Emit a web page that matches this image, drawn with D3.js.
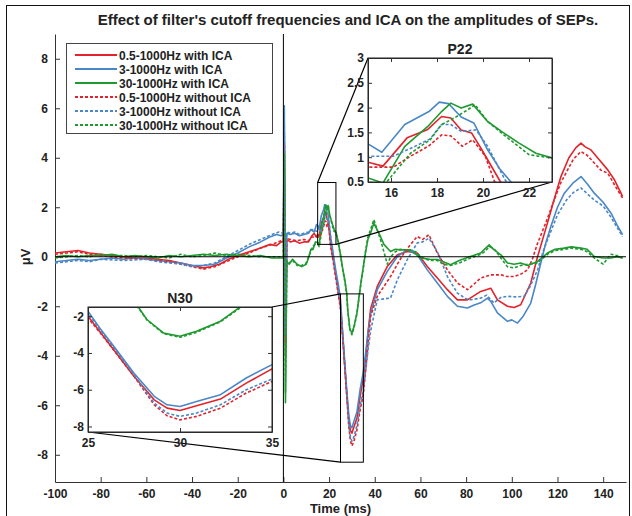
<!DOCTYPE html>
<html>
<head>
<meta charset="utf-8">
<script src="https://cdn.jsdelivr.net/npm/d3@7"></script>
<style>
  body { margin: 0; background: #fff; }
  svg { font-family: "Liberation Sans", Arial, Helvetica, sans-serif; }
  .lbl { font-weight: bold; fill: #222; }
</style>
</head>
<body>
<svg id="chart" width="632" height="516"></svg>
<script>
// time (ms), amplitude (uV) pairs
const redSolid = [[-100,0.15],[-95,0.2],[-90,0.25],[-85,0.15],[-80,0.1],[-75,0.05],[-70,0],[-65,-0.05],[-60,-0.05],[-55,-0.1],[-50,-0.15],[-45,-0.25],[-40,-0.35],[-35,-0.45],[-32,-0.4],[-28,-0.3],[-24,-0.1],[-20,0.05],[-15,0.2],[-10,0.35],[-6,0.5],[-3,0.45],[-1,0.6],[0,0.6],[0.4,5.0],[0.9,-4.0],[1.5,0.7],[3,0.6],[5,0.65],[7,0.55],[9,0.6],[11,0.6],[12.5,0.85],[13.5,0.95],[14.3,0.8],[15,0.9],[15.65,0.82],[16.7,1.39],[17.6,1.56],[18.2,1.82],[18.6,1.79],[19.05,1.55],[19.5,1.49],[19.95,1.15],[20.75,0.51],[22,-0.2],[23,-0.8],[24,-1.4],[25,-2.0],[25.7,-2.91],[26.4,-3.82],[27.5,-5.27],[28.6,-6.55],[29.3,-7.0],[30,-7.13],[30.9,-6.87],[32.2,-6.51],[33.6,-5.64],[35,-4.87],[36,-4.1],[37,-3.1],[38.2,-2.1],[41.1,-1.2],[45.5,-0.39],[49.9,0.08],[54.2,0.21],[58.6,0.15],[63,-0.39],[67.4,-0.86],[71.8,-1.33],[76.2,-1.74],[80.6,-1.74],[83,-1.6],[86.4,-1.4],[90.8,-1.27],[93.7,-1.74],[98.1,-2.0],[101,-2.05],[103.9,-1.94],[108.3,-1.06],[111.3,0.01],[115.6,1.36],[118.5,2.3],[121.5,3.24],[125,4.0],[128,4.4],[130.3,4.59],[132,4.45],[134.6,4.32],[138,3.95],[142,3.51],[145,3.1],[148.5,2.44]];

const blueSolid = [[-100,-0.2],[-95,-0.15],[-90,-0.1],[-85,-0.15],[-80,-0.1],[-75,-0.05],[-70,-0.1],[-65,-0.05],[-60,-0.1],[-55,-0.15],[-50,-0.2],[-45,-0.25],[-40,-0.35],[-35,-0.35],[-30,-0.3],[-25,-0.05],[-20,0.15],[-15,0.4],[-10,0.6],[-6,0.8],[-3,0.9],[-1,0.85],[0,0.9],[0.4,6.1],[0.9,-3.0],[1.5,0.95],[3,0.9],[5,0.95],[7,0.85],[9,0.9],[11,0.95],[12,1.1],[13.5,1.0],[14.5,1.3],[15,1.27],[15.6,1.1],[16.6,1.66],[17.65,1.92],[18.1,2.11],[18.5,2.08],[19.05,1.81],[19.6,1.69],[20.2,1.15],[20.75,0.75],[21.2,0.51],[22,0],[23,-0.6],[24,-1.1],[25,-1.73],[25.7,-2.73],[26.4,-3.64],[27.5,-5.1],[28.6,-6.36],[29.3,-6.82],[30,-6.91],[30.9,-6.64],[32.2,-6.27],[33.6,-5.36],[35,-4.64],[36,-3.9],[37,-3.1],[38.2,-2.3],[41.1,-1.33],[45.5,-0.59],[49.9,0.01],[54.2,0.28],[58.6,0.08],[63,-0.53],[67.4,-1.06],[71.8,-1.6],[76.2,-2.0],[80.6,-2.07],[83.5,-1.95],[86.4,-1.86],[89.3,-1.67],[90.8,-1.8],[93.7,-2.27],[98.1,-2.61],[100,-2.55],[102.5,-2.68],[105,-2.4],[108.3,-1.87],[110.5,-1.1],[112.7,-0.25],[115,0.6],[117.1,1.22],[120,2.0],[123,2.57],[127,3.0],[130.3,3.24],[133,2.95],[136.1,2.57],[140,2.2],[143.4,1.77],[146,1.3],[148.5,0.89]];

const greenSolid = [[-100,0],[-95,0.05],[-90,0],[-85,0.05],[-80,0.05],[-75,0.1],[-70,0],[-65,0.05],[-60,0],[-55,-0.05],[-50,0.05],[-45,0],[-40,0.05],[-35,0.1],[-30,0.05],[-25,0.1],[-20,0.05],[-15,0],[-10,0.05],[-5,-0.05],[0,-0.05],[0.4,4.5],[0.9,-5.9],[1.5,-0.2],[2.5,-0.3],[4,-0.1],[6,-0.3],[8,-0.4],[10,-0.3],[11,-0.05],[12,0.3],[13,0.3],[14,0.6],[15,0.58],[15.65,0.48],[16.6,1.22],[17.6,1.62],[18.2,1.92],[18.6,2.09],[19.05,1.99],[19.55,2.07],[20.2,1.72],[20.8,1.52],[21.55,1.29],[22.3,1.08],[23.05,0.98],[24,0.6],[25,0.1],[26,-0.5],[27,-1.0],[27.7,-1.45],[28.2,-2.18],[29.1,-2.91],[30,-3.09],[30.9,-2.82],[32.2,-2.27],[33.2,-1.55],[34,-1.0],[35,-0.4],[36,0.2],[37,0.7],[38.2,0.96],[39.6,1.36],[42.5,0.82],[44,0.5],[46.9,0.21],[49,0.3],[51.3,0.28],[55.7,0.28],[60.1,-0.05],[64,-0.1],[67.4,-0.11],[70,-0.2],[73.2,-0.32],[77,-0.15],[80.6,-0.03],[86.4,0.15],[88,0.3],[90.1,0.48],[92,0.3],[95.2,0.08],[98.1,-0.25],[101,-0.3],[103.9,-0.25],[107,-0.35],[111.3,-0.19],[115.6,0.15],[119,0.3],[122.9,0.35],[126,0.4],[130.3,0.35],[133,0.3],[136.1,0.01],[140,-0.05],[143.4,-0.05],[146,0],[148.5,-0.05]];

const redDashed = [[-100,0.1],[-95,0.15],[-90,0.2],[-85,0.1],[-80,0.05],[-70,-0.05],[-60,-0.1],[-50,-0.2],[-45,-0.3],[-40,-0.4],[-35,-0.5],[-30,-0.4],[-25,-0.2],[-20,0],[-15,0.15],[-10,0.35],[-5,0.5],[-1,0.65],[0,0.65],[0.4,4.6],[0.9,-3.5],[1.5,0.75],[3,0.7],[6,0.65],[9,0.7],[11,0.65],[12.5,0.8],[14,0.8],[15,0.8],[16.1,0.8],[16.85,1.02],[17.65,1.23],[18.2,1.45],[18.6,1.43],[19.1,1.22],[19.55,1.35],[20.1,1.02],[20.5,0.51],[22,-0.3],[23,-0.9],[24,-1.5],[25,-2.1],[25.7,-2.95],[26.4,-3.85],[27.5,-5.27],[28.6,-6.82],[29.3,-7.42],[30,-7.64],[30.9,-7.45],[32.2,-7.0],[33.6,-6.18],[35,-5.55],[36,-4.6],[37,-3.6],[38.2,-2.4],[41.1,-1.6],[44,-1.2],[46.9,-0.8],[49.9,-0.3],[52.8,0.15],[55.7,0.5],[58.6,0.82],[61,0.7],[63.7,0.89],[67.4,0.15],[71.8,-0.53],[76.2,-1.06],[80.6,-1.33],[83.5,-1.1],[86.4,-0.86],[90.8,-0.73],[95.2,-0.73],[98,-0.8],[101,-0.8],[104,-0.7],[106.9,-0.53],[109,-0.1],[111.3,0.55],[115,1.4],[118.6,2.3],[121.5,3.0],[124.4,3.5],[127,3.95],[130.3,4.25],[133,4.1],[136,3.8],[139,3.5],[142,3.38],[145,2.9],[148.5,2.37]];

const blueDashed = [[-100,-0.25],[-95,-0.2],[-90,-0.15],[-85,-0.2],[-80,-0.1],[-70,-0.15],[-60,-0.1],[-55,-0.2],[-50,-0.25],[-45,-0.3],[-40,-0.4],[-35,-0.35],[-30,-0.25],[-25,0],[-20,0.25],[-15,0.5],[-10,0.7],[-5,0.9],[-2,1.0],[0,0.95],[0.4,5.4],[0.9,-3.2],[1.5,1.0],[3,0.95],[5,1.0],[7,0.9],[9,0.95],[11,1.0],[12.5,1.1],[14,1.05],[15,1.02],[16.1,1.02],[17.05,1.22],[17.7,1.37],[18.2,1.66],[18.6,1.66],[19.05,1.52],[19.7,1.55],[20.2,1.22],[20.95,0.55],[22,-0.1],[23,-0.7],[24,-1.3],[25,-1.85],[25.7,-2.8],[26.4,-3.7],[27.5,-5.18],[28.6,-6.73],[29.3,-7.27],[30,-7.45],[30.9,-7.27],[32.2,-6.82],[33.6,-6.0],[35,-5.42],[36,-4.6],[37,-3.8],[38.2,-3.0],[40,-2.2],[41.1,-1.74],[44,-1.7],[46.9,-1.67],[49.9,-0.93],[54.2,-0.12],[58.6,0.56],[61,0.6],[63.7,0.75],[67.4,0.21],[71.8,-0.8],[76.2,-1.47],[80,-1.7],[82,-1.74],[86.4,-1.67],[89,-1.55],[92.2,-1.87],[95,-1.65],[98,-1.6],[102,-1.62],[105.4,-1.6],[108,-1.2],[111.3,-0.53],[114,0.3],[117,1.0],[120,1.7],[124,2.3],[127,2.6],[130.3,2.78],[133,2.55],[136,2.3],[140,2.05],[143.4,1.6],[146,1.2],[148.5,0.82]];

const greenDashed = [[-100,-0.05],[-95,0],[-90,0.05],[-85,0],[-80,0.1],[-75,0.05],[-70,0.05],[-65,0],[-60,0.05],[-55,0],[-50,-0.05],[-45,0.1],[-40,0],[-35,0.05],[-30,0.15],[-25,0.05],[-20,0.1],[-15,0.05],[-10,0],[-5,0],[0,0],[0.4,4.2],[0.9,-5.5],[1.5,-0.15],[2.5,-0.25],[4,-0.15],[6,-0.35],[8,-0.35],[10,-0.25],[11,0],[12,0.2],[13,0.45],[14,0.5],[15,0.51],[15.65,0.41],[16.85,1.08],[17.7,1.35],[18.2,1.66],[18.75,1.79],[19.35,1.96],[19.65,2.06],[20.2,1.72],[20.8,1.49],[22,1.05],[23,0.98],[24,0.55],[25,0.05],[26,-0.55],[27,-1.05],[27.7,-1.5],[28.2,-2.2],[29.1,-2.95],[30,-3.15],[30.9,-2.88],[32.2,-2.3],[33.2,-1.6],[34,-1.05],[35,-0.45],[36,0.25],[37,0.8],[38.2,1.1],[39.6,1.5],[41,1.1],[42.5,0.7],[44,0.2],[45.5,-0.3],[47,0],[49,0.2],[51.3,0.3],[55.7,0.25],[58,0.2],[60.1,0],[64,-0.15],[67.4,-0.15],[70,-0.3],[73.2,-0.35],[77,-0.25],[80.6,-0.1],[86.4,0.1],[88,0.2],[90.1,0.4],[92,0.35],[95.2,-0.05],[98.1,-0.4],[101,-0.45],[103.9,-0.35],[107,-0.3],[111.3,-0.25],[115.6,0.1],[119,0.25],[122.9,0.3],[126,0.35],[130.3,0.3],[133,0.2],[136.1,-0.05],[140,-0.3],[143.4,0.1],[146,0.05],[148.5,-0.05]];

const seriesNames = ["0.5-1000Hz with ICA", "3-1000Hz with ICA", "30-1000Hz with ICA",
  "0.5-1000Hz without ICA", "3-1000Hz without ICA", "30-1000Hz without ICA"];
const seriesData = [redSolid, blueSolid, greenSolid, redDashed, blueDashed, greenDashed];
const seriesColors = ["#e2232b", "#4a87c6", "#1f9a30", "#e2232b", "#4a87c6", "#1f9a30"];
const seriesDashed = [false, false, false, true, true, true];

const xTicks = [-100, -80, -60, -40, -20, 0, 20, 40, 60, 80, 100, 120, 140];
const yTicks = [-8, -6, -4, -2, 0, 2, 4, 6, 8];
const p22Zoom = {title: "P22", x: [15, 23], y: [0.5, 3], xTicks: [16, 18, 20, 22], yTicks: [0.5, 1, 1.5, 2, 2.5, 3]};
const n30Zoom = {title: "N30", x: [25, 35], y: [-8.3, -1.5], xTicks: [25, 30, 35], yTicks: [-8, -6, -4, -2]};

const svg = d3.select("#chart");
const plain = d => String(d);  // hyphen minus, no trailing ".0"

// outer frame of the figure
svg.append("rect").attr("x", 6.5).attr("y", 5.5).attr("width", 623).attr("height", 520)
  .attr("fill", "none").attr("stroke", "#111").attr("stroke-width", 1);

const x = d3.scaleLinear().domain([-100, 150]).range([55, 626]);
const y = d3.scaleLinear().domain([-9.1, 9]).range([482, 34]);

svg.append("text").attr("class", "lbl").attr("x", 348).attr("y", 25)
  .attr("text-anchor", "middle").style("font-size", "15px")
  .text("Effect of filter's cutoff frequencies and ICA on the amplitudes of SEPs.");

function styleAxis(g) {
  g.selectAll("path").attr("stroke", "#333");
  g.selectAll("line").attr("stroke", "#333");
  g.selectAll("text").attr("class", "lbl").style("font-size", "12px").attr("fill", "#222");
}

svg.append("g").attr("transform", "translate(55,0)")
  .call(d3.axisLeft(y).tickValues(yTicks).tickFormat(plain).tickSize(-5).tickSizeOuter(0).tickPadding(7))
  .call(styleAxis);
svg.append("g").attr("transform", "translate(0,482)")
  .call(d3.axisBottom(x).tickValues(xTicks).tickFormat(plain).tickSize(-5).tickSizeOuter(0).tickPadding(7))
  .call(styleAxis);

svg.append("text").attr("class", "lbl").attr("x", 340.5).attr("y", 513)
  .attr("text-anchor", "middle").style("font-size", "13px").text("Time (ms)");
svg.append("text").attr("class", "lbl")
  .attr("transform", "translate(30,257) rotate(-90)")
  .attr("text-anchor", "middle").style("font-size", "13px").text("μV");

function drawSeries(g, xs, ys) {
  const line = d3.line().x(d => xs(d[0])).y(d => ys(d[1]));
  seriesData.forEach((data, i) => {
    g.append("path").datum(data)
      .attr("fill", "none")
      .attr("stroke", seriesColors[i])
      .attr("stroke-width", 1.6)
      .attr("stroke-linejoin", "round")
      .attr("stroke-dasharray", seriesDashed[i] ? "3,2" : null)
      .attr("d", line);
  });
}

const main = svg.append("g");
drawSeries(main, x, y);

// zero lines
svg.append("line").attr("x1", x(-100)).attr("x2", x(150)).attr("y1", y(0)).attr("y2", y(0))
  .attr("stroke", "#000").attr("stroke-width", 1);
svg.append("line").attr("x1", x(0)).attr("x2", x(0)).attr("y1", y(9)).attr("y2", y(-9.1))
  .attr("stroke", "#000").attr("stroke-width", 1);

function drawInset(z, box, corners, clipId) {
  // highlight rectangle in main plot
  svg.append("rect")
    .attr("x", x(z.x[0])).attr("y", y(z.y[1]))
    .attr("width", x(z.x[1]) - x(z.x[0])).attr("height", y(z.y[0]) - y(z.y[1]))
    .attr("fill", "none").attr("stroke", "#000").attr("stroke-width", 1);

  const ix = d3.scaleLinear().domain(z.x).range([box.x, box.x + box.w]);
  const iy = d3.scaleLinear().domain(z.y).range([box.y + box.h, box.y]);

  // connector lines
  corners.forEach(c => {
    svg.append("line")
      .attr("x1", x(c[0])).attr("y1", y(c[1]))
      .attr("x2", ix(c[2])).attr("y2", iy(c[3]))
      .attr("stroke", "#000").attr("stroke-width", 1.2);
  });

  const g = svg.append("g");
  g.append("rect").attr("x", box.x).attr("y", box.y).attr("width", box.w).attr("height", box.h)
    .attr("fill", "#fff");
  svg.append("clipPath").attr("id", clipId).append("rect")
    .attr("x", box.x).attr("y", box.y).attr("width", box.w).attr("height", box.h);
  const plot = g.append("g").attr("clip-path", "url(#" + clipId + ")");
  drawSeries(plot, ix, iy);

  g.append("g").attr("transform", "translate(0," + (box.y + box.h) + ")")
    .call(d3.axisBottom(ix).tickValues(z.xTicks).tickFormat(plain).tickSize(-4).tickSizeOuter(0).tickPadding(6))
    .call(styleAxis);
  g.append("g").attr("transform", "translate(0," + box.y + ")")
    .call(d3.axisTop(ix).tickValues(z.xTicks).tickSize(-4).tickSizeOuter(0).tickFormat(""))
    .call(styleAxis);
  g.append("g").attr("transform", "translate(" + box.x + ",0)")
    .call(d3.axisLeft(iy).tickValues(z.yTicks).tickFormat(plain).tickSize(-4).tickSizeOuter(0).tickPadding(4))
    .call(styleAxis);
  g.append("g").attr("transform", "translate(" + (box.x + box.w) + ",0)")
    .call(d3.axisRight(iy).tickValues(z.yTicks).tickSize(-4).tickSizeOuter(0).tickFormat(""))
    .call(styleAxis);
  g.append("rect").attr("x", box.x).attr("y", box.y).attr("width", box.w).attr("height", box.h)
    .attr("fill", "none").attr("stroke", "#222").attr("stroke-width", 1);
  g.append("text").attr("class", "lbl").attr("x", box.x + box.w / 2).attr("y", box.y - 4)
    .attr("text-anchor", "middle").style("font-size", "14px").text(z.title);
}

drawInset(p22Zoom, {x: 368, y: 58, w: 184, h: 124},
  [[15, 3, 15, 3], [23, 0.5, 23, 0.5]], "clipP22");
drawInset(n30Zoom, {x: 88, y: 307, w: 184, h: 125},
  [[25, -1.5, 35, -1.5], [25, -8.3, 25, -8.3]], "clipN30");

// legend
const legend = svg.append("g");
legend.append("rect").attr("x", 66.5).attr("y", 43.5).attr("width", 206).attr("height", 90)
  .attr("fill", "#fff").attr("stroke", "#444").attr("stroke-width", 1);
seriesNames.forEach((name, i) => {
  const ly = 55 + i * 14;
  legend.append("line").attr("x1", 75).attr("x2", 117).attr("y1", ly).attr("y2", ly)
    .attr("stroke", seriesColors[i]).attr("stroke-width", 1.8)
    .attr("stroke-dasharray", seriesDashed[i] ? "3,2" : null);
  legend.append("text").attr("class", "lbl").attr("x", 119).attr("y", ly + 4.5)
    .style("font-size", "12px").text(name);
});
</script>
</body>
</html>
